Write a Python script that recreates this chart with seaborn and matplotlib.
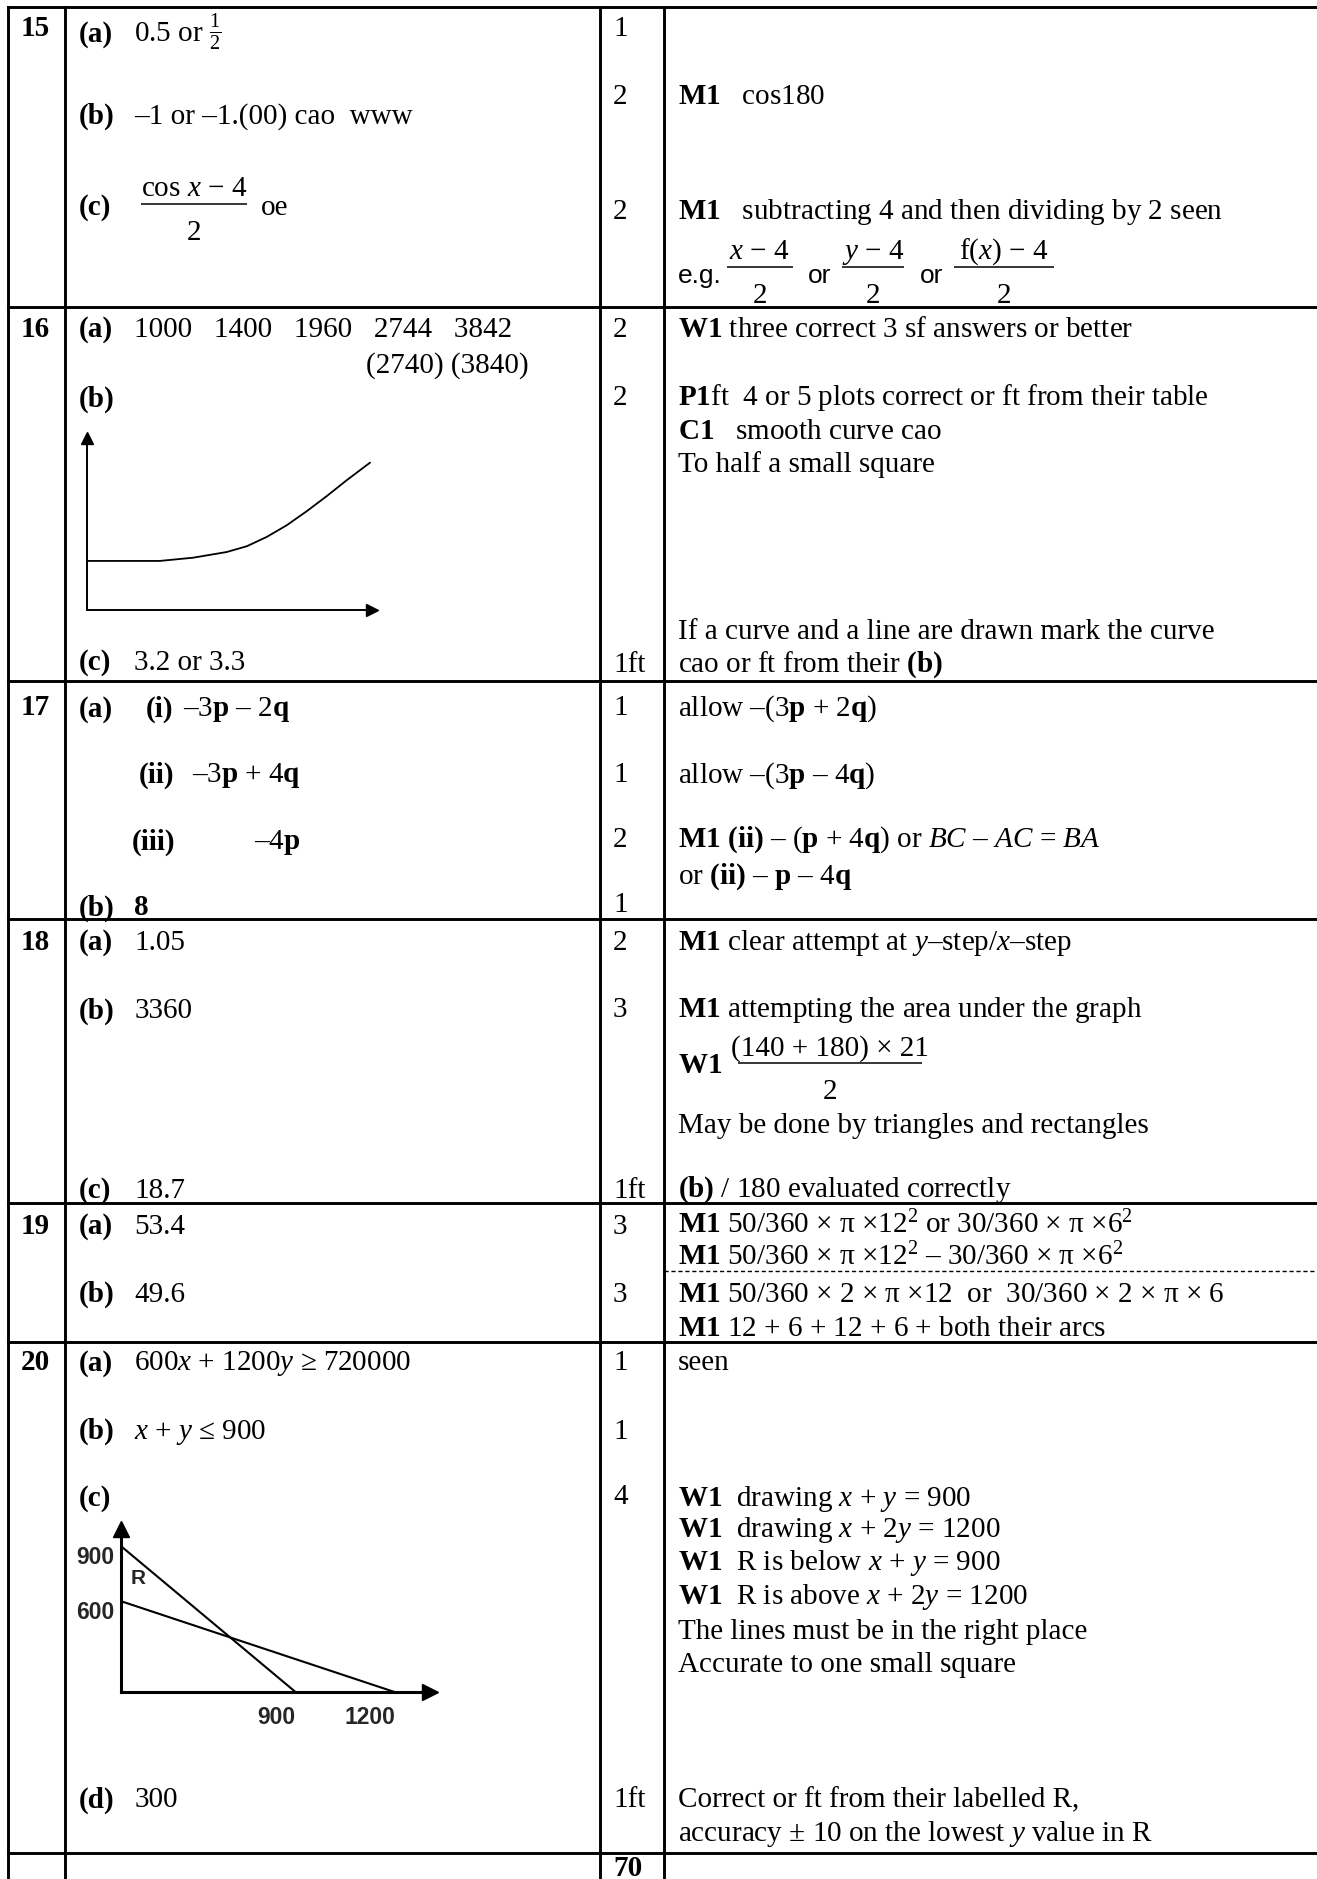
import matplotlib
matplotlib.use("Agg")
import matplotlib.pyplot as plt
import numpy as np
import pandas as pd
import seaborn as sns

sns.set_style("white")
plt.rcParams["font.family"] = ["Liberation Serif", "DejaVu Serif"]
plt.rcParams["mathtext.fontset"] = "custom"
plt.rcParams["mathtext.rm"] = "Liberation Serif"
plt.rcParams["mathtext.it"] = "Liberation Serif:italic"
plt.rcParams["mathtext.bf"] = "Liberation Serif:bold"
plt.rcParams["mathtext.fallback"] = "stix"

# ---- content of the mark scheme ----
question_numbers = ["15", "16", "17", "18", "19", "20"]
marks = {
    "15": ["1", "2", "2"],
    "16": ["2", "2", "1ft"],
    "17": ["1", "1", "2", "1"],
    "18": ["2", "3", "1ft"],
    "19": ["3", "3"],
    "20": ["1", "1", "4", "1ft"],
}
total_marks = "70"

q16_table = [1000, 1400, 1960, 2744, 3842]
q16_table_3sf = [2740, 3840]
# sketch of the curve for 16(b) (sketch units 0-100)
q16_curve_x = [0, 25.6, 37.3, 49.0, 56.1, 63.0, 70.0, 77.0, 84.0, 91.0, 99.2]
q16_curve_y = [28.4, 28.4, 30.3, 33.6, 37.0, 42.4, 49.2, 57.4, 66.2, 75.5, 85.8]

# 20(c) sketch: x + y = 900 and x + 2y = 1200
q20_lines = ["x + y = 900", "x + 2y = 1200"]
q20_x = [[0, 900], [0, 1200]]
q20_y = [[900, 0], [600, 0]]
q20_xticks = [900, 1200]
q20_yticks = [600, 900]

FS = 21
BASE = 8.2

fig = plt.figure(figsize=(13.17, 18.79), dpi=100)
ax = fig.add_axes([0, 0, 1, 1])
ax.set_xlim(0, 1100)
ax.set_ylim(1569, 0)
ax.axis("off")


def put(x, y, s, bold=False, ha="left", size=FS, family=None):
    kw = {"family": family} if family else {}
    ax.text(x, y + BASE, s, fontsize=size, fontweight="bold" if bold else "normal",
            ha=ha, va="baseline", color="black", **kw)


def frac(x0, x1, y, num, den):
    xc = (x0 + x1) / 2
    ax.plot([x0, x1], [y, y], color="black", lw=1.1, solid_capstyle="butt")
    put(xc, y - 15, num, ha="center")
    put(xc, y + 21.5, den, ha="center")


def inset(left, top, right, bottom):
    a = fig.add_axes([left / 1100, 1 - bottom / 1569, (right - left) / 1100, (bottom - top) / 1569])
    a.set_facecolor("none")
    return a


# ---- table grid ----
cols = [6.5, 54.5, 501, 554.7]
rows = [5.6, 256.5, 568.5, 767.7, 1004.7, 1120.5, 1547]
for y in rows:
    ax.plot([6.5, 1100], [y, y], color="black", lw=2.1, solid_capstyle="projecting")
for x in cols:
    ax.plot([x, x], [5.6, 1569], color="black", lw=2.1, solid_capstyle="projecting")
ax.plot([554.7, 1100], [1061.5, 1061.5], color="black", lw=1.0, ls=(0, (3, 2)))

# ---- question numbers ----
for q, y in zip(question_numbers, [22, 273, 589, 785, 1022, 1136]):
    put(17, y, q, bold=True)

# ---- marks column ----
marks_y = {
    "15": [22, 79, 175],
    "16": [273, 330, 552.7],
    "17": [589, 644.6, 699, 753],
    "18": [785, 841, 992],
    "19": [1022, 1079],
    "20": [1136, 1193, 1248, 1501],
}
for q in question_numbers:
    for m, y in zip(marks[q], marks_y[q]):
        put(512, y, m)
put(512, 1558, total_marks, bold=True)

# ---- answers column ----
LX, AX = 66, 112
# 15
put(LX, 27, "(a)", bold=True)
put(AX, 27, r"0.5 or $\frac{1}{2}$")
put(LX, 95, "(b)", bold=True)
put(AX, 95, "–1 or –1.(00) cao  www")
put(LX, 171, "(c)", bold=True)
frac(118, 206, 170.5, r"cos $x$ − 4", "2")
put(218, 171, "oe")
# 16
put(LX, 273, "(a)", bold=True)
put(AX, 273, "   ".join(str(v) for v in q16_table))
put(306, 303, " ".join(f"({v})" for v in q16_table_3sf))
put(LX, 331, "(b)", bold=True)
put(LX, 551, "(c)", bold=True)
put(AX, 551, "3.2 or 3.3")
# 17
put(LX, 590, "(a)", bold=True)
put(122, 590, "(i)", bold=True)
put(153, 590, r"–3$\mathbf{p}$ – 2$\mathbf{q}$")
put(116, 645, "(ii)", bold=True)
put(160, 645, r"–3$\mathbf{p}$ + 4$\mathbf{q}$")
put(110, 701, "(iii)", bold=True)
put(212, 701, r"–4$\mathbf{p}$")
put(LX, 756, "(b)", bold=True)
put(AX, 756, "8", bold=True)
# 18
put(LX, 785, "(a)", bold=True)
put(AX, 785, "1.05")
put(LX, 842, "(b)", bold=True)
put(AX, 842, "3360")
put(LX, 992, "(c)", bold=True)
put(AX, 992, "18.7")
# 19
put(LX, 1022, "(a)", bold=True)
put(AX, 1022, "53.4")
put(LX, 1079, "(b)", bold=True)
put(AX, 1079, "49.6")
# 20
put(LX, 1136, "(a)", bold=True)
put(AX, 1136, r"600$x$ + 1200$y$ ≥ 720000")
put(LX, 1193, "(b)", bold=True)
put(AX, 1193, r"$x$ + $y$ ≤ 900")
put(LX, 1249, "(c)", bold=True)
put(LX, 1501, "(d)", bold=True)
put(AX, 1501, "300")

# ---- guidance column ----
GX = 566
notes = [
    (79, r"$\mathbf{M1}$   cos180"),
    (175, r"$\mathbf{M1}$   subtracting 4 and then dividing by 2 seen"),
    (273, r"$\mathbf{W1}$ three correct 3 sf answers or better"),
    (330, r"$\mathbf{P1}$ft  4 or 5 plots correct or ft from their table"),
    (358, r"$\mathbf{C1}$   smooth curve cao"),
    (386, "To half a small square"),
    (525, "If a curve and a line are drawn mark the curve"),
    (553, r"cao or ft from their $\mathbf{(b)}$"),
    (589, r"allow –(3$\mathbf{p}$ + 2$\mathbf{q}$)"),
    (645, r"allow –(3$\mathbf{p}$ – 4$\mathbf{q}$)"),
    (699, r"$\mathbf{M1}$ $\mathbf{(ii)}$ – ($\mathbf{p}$ + 4$\mathbf{q}$) or $BC$ – $AC$ = $BA$"),
    (729.5, r"or $\mathbf{(ii)}$ – $\mathbf{p}$ – 4$\mathbf{q}$"),
    (785, r"$\mathbf{M1}$ clear attempt at $y$–step/$x$–step"),
    (841, r"$\mathbf{M1}$ attempting the area under the graph"),
    (888, r"$\mathbf{W1}$"),
    (938, "May be done by triangles and rectangles"),
    (991, r"$\mathbf{(b)}$ / 180 evaluated correctly"),
    (1022, r"$\mathbf{M1}$ 50/360 × π ×$12^{2}$ or 30/360 × π ×$6^{2}$"),
    (1048, r"$\mathbf{M1}$ 50/360 × π ×$12^{2}$ – 30/360 × π ×$6^{2}$"),
    (1079, r"$\mathbf{M1}$ 50/360 × 2 × π ×12  or  30/360 × 2 × π × 6"),
    (1107, r"$\mathbf{M1}$ 12 + 6 + 12 + 6 + both their arcs"),
    (1136, "seen"),
    (1249, r"$\mathbf{W1}$  drawing $x$ + $y$ = 900"),
    (1275.4, r"$\mathbf{W1}$  drawing $x$ + 2$y$ = 1200"),
    (1303, r"$\mathbf{W1}$  R is below $x$ + $y$ = 900"),
    (1331, r"$\mathbf{W1}$  R is above $x$ + 2$y$ = 1200"),
    (1360, "The lines must be in the right place"),
    (1388, "Accurate to one small square"),
    (1501, "Correct or ft from their labelled R,"),
    (1529, r"accuracy ± 10 on the lowest $y$ value in R"),
]
for y, s in notes:
    put(GX, y, s)

put(GX, 228, "e.g.", size=19, family="Liberation Sans")
frac(607, 662, 223, r"$x$ − 4", "2")
put(675, 228, "or", size=19, family="Liberation Sans")
frac(703, 755, 223, r"$y$ − 4", "2")
put(768, 228, "or", size=19, family="Liberation Sans")
frac(797, 880, 223, r"f($x$) − 4", "2")
frac(616, 770, 888, "(140 + 180) × 21", "2")

# ---- 16(b) sketch ----
ax16 = inset(72.4, 366, 311, 509)
sns.lineplot(x=q16_curve_x, y=q16_curve_y, ax=ax16, color="black", lw=1.3)
ax16.set_xlim(0, 100)
ax16.set_ylim(0, 100)
ax16.set_xticks([])
ax16.set_yticks([])
for side in ["top", "right"]:
    ax16.spines[side].set_visible(False)
for side in ["left", "bottom"]:
    ax16.spines[side].set_color("black")
    ax16.spines[side].set_linewidth(1.4)
ax16.plot(1, 0, ">", color="black", ms=9, transform=ax16.transAxes, clip_on=False)
ax16.plot(0, 1, "^", color="black", ms=9, transform=ax16.transAxes, clip_on=False)

# ---- 20(c) sketch ----
df20 = pd.DataFrame({
    "x": q20_x[0] + q20_x[1],
    "y": q20_y[0] + q20_y[1],
    "line": [q20_lines[0]] * 2 + [q20_lines[1]] * 2,
})
ax20 = inset(101, 1277, 359, 1413)
# the hand sketch is not drawn to a uniform scale: piecewise axis scales
sx_d, sx_p = [-1000, 0, 900, 1200, 4000], [-162, 0, 146, 229, 1001]
sy_d, sy_p = [-1000, 0, 600, 900, 4000], [-126, 0, 76, 122, 603]
ax20.set_xscale("function", functions=(lambda v: np.interp(v, sx_d, sx_p),
                                       lambda v: np.interp(v, sx_p, sx_d)))
ax20.set_yscale("function", functions=(lambda v: np.interp(v, sy_d, sy_p),
                                       lambda v: np.interp(v, sy_p, sy_d)))
sns.lineplot(data=df20, x="x", y="y", units="line", estimator=None, sort=False,
             color="black", lw=1.5, ax=ax20)
ax20.set_xlim(0, np.interp(258, sx_p, sx_d))
ax20.set_ylim(0, np.interp(136, sy_p, sy_d))
ax20.set_xlabel("")
ax20.set_ylabel("")
ax20.set_xticks(q20_xticks)
ax20.set_yticks(q20_yticks)
ax20.minorticks_off()
ax20.tick_params(axis="both", which="both", length=0, labelsize=16.5)
ax20.tick_params(axis="x", pad=10)
ax20.tick_params(axis="y", pad=5)
for lab in ax20.get_xticklabels():
    lab.set_horizontalalignment("right")
for lab in ax20.get_yticklabels():
    lab.set_verticalalignment("top")
for lab in ax20.get_xticklabels() + ax20.get_yticklabels():
    lab.set_fontfamily("Liberation Sans")
    lab.set_fontweight("bold")
for side in ["top", "right"]:
    ax20.spines[side].set_visible(False)
for side in ["left", "bottom"]:
    ax20.spines[side].set_color("black")
    ax20.spines[side].set_linewidth(2.2)
ax20.plot(1, 0, ">", color="black", ms=12, transform=ax20.transAxes, clip_on=False)
ax20.plot(0, 1, "^", color="black", ms=12, transform=ax20.transAxes, clip_on=False)
ax20.text(0.03, 0.70, "R", fontsize=15, fontweight="bold", family="Liberation Sans",
          va="center", transform=ax20.transAxes)

fig.savefig("out.png", dpi=100)
